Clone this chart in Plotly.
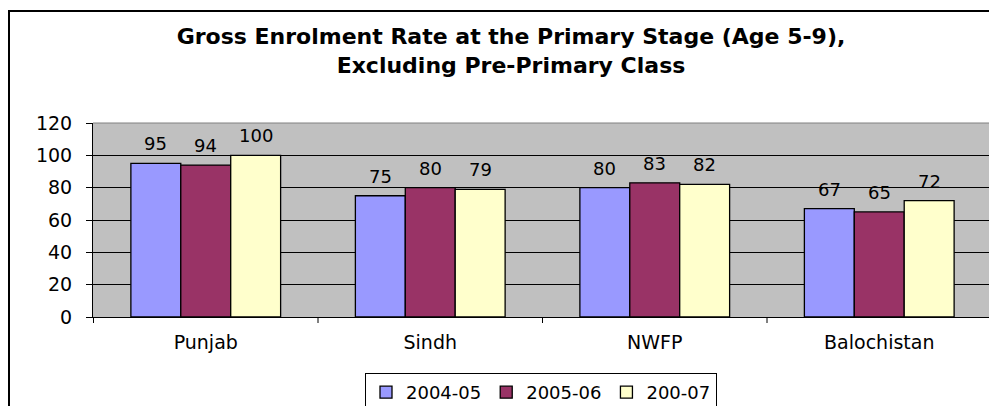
import plotly.graph_objects as go

categories = ["Punjab", "Sindh", "NWFP", "Balochistan"]
series_names = ["2004-05", "2005-06", "200-07"]
values_2004_05 = [95, 75, 80, 67]
values_2005_06 = [94, 80, 83, 65]
values_200_07 = [100, 79, 82, 72]
colors = ["#9999FF", "#993366", "#FFFFCC"]
y_ticks = [0, 20, 40, 60, 80, 100, 120]

FONT = "DejaVu Sans, Verdana, sans-serif"

# The page body has an 8px default margin, so figure pixel = screen pixel - 8.
OFF = 8
W, H = 997, 406
# plot area on screen: x 93..992, y 123..317
L, R = 93 - OFF, W - (992 - OFF)
T, B = 123 - OFF, H - (317 - OFF)
pw, ph = W - L - R, H - T - B
BARGAP = 0.333
n_series = len(series_names)
bar_px = pw / len(categories) * (1 - BARGAP) / n_series


def px(x):
    """screen x -> paper x"""
    return (x - OFF - L) / pw


def py(y):
    """screen y -> paper y"""
    return (H - B - (y - OFF)) / ph


all_values = [values_2004_05, values_2005_06, values_200_07]

fig = go.Figure()
annotations = []
for s, (name, vals, col) in enumerate(zip(series_names, all_values, colors)):
    fig.add_trace(go.Bar(
        x=categories, y=vals, name=name,
        marker=dict(color=col, line=dict(color="black", width=1.3)),
    ))
    for cat, v in zip(categories, vals):
        annotations.append(dict(
            x=cat, y=v, xref="x", yref="y", text=str(v), showarrow=False,
            xanchor="center", yanchor="bottom",
            xshift=(s - (n_series - 1) / 2) * bar_px, yshift=7,
            font=dict(family=FONT, size=18, color="black"),
        ))

fig.update_layout(
    width=W, height=H,
    margin=dict(l=L, r=R, t=T, b=B, autoexpand=False),
    paper_bgcolor="white",
    plot_bgcolor="#C0C0C0",
    barmode="group",
    bargap=BARGAP,
    bargroupgap=0,
    showlegend=True,
    font=dict(family=FONT, color="black"),
    title=dict(
        text="Gross Enrolment Rate at the Primary Stage (Age 5-9),<br>Excluding Pre-Primary Class",
        x=px(511), xanchor="center", xref="paper",
        y=1 - 36 / H, yanchor="top",
        font=dict(family=FONT, size=22, color="black", weight="bold"),
    ),
    xaxis=dict(
        showgrid=False, showline=True, linecolor="black", linewidth=1,
        ticks="", ticklabelstandoff=8,
        tickfont=dict(family=FONT, size=19, color="black"),
        automargin=False,
    ),
    yaxis=dict(
        range=[0, 120], tickvals=y_ticks, ticktext=[str(t) for t in y_ticks],
        showgrid=True, gridcolor="black", gridwidth=1,
        showline=True, linecolor="black", linewidth=1,
        ticks="outside", ticklen=6, tickcolor="black",
        ticklabelstandoff=10,
        tickfont=dict(family=FONT, size=19, color="black"),
        zeroline=False, automargin=False,
    ),
    legend=dict(
        orientation="h", x=px(541), xanchor="center",
        y=py(373), yanchor="top",
        bordercolor="black", borderwidth=1, bgcolor="white",
        font=dict(family=FONT, size=18, color="black"),
        itemwidth=30, tracegroupgap=0,
    ),
    annotations=annotations,
    shapes=[
        # outer chart frame (top + left visible)
        dict(type="rect", xref="paper", yref="paper",
             x0=px(9), x1=px(1010), y0=py(430), y1=py(11),
             line=dict(color="black", width=2), fillcolor="rgba(0,0,0,0)", layer="below"),
        # plot area border top/right gray
        dict(type="line", xref="paper", yref="paper", x0=0, x1=1, y0=1, y1=1,
             line=dict(color="#808080", width=1)),
        dict(type="line", xref="paper", yref="paper", x0=1, x1=1, y0=0, y1=1,
             line=dict(color="#808080", width=1)),
    ],
)

# category boundary tick marks on x axis
for i in range(len(categories) + 1):
    fig.add_shape(type="line", xref="x", yref="paper",
                  x0=i - 0.5, x1=i - 0.5, y0=0, y1=-6 / ph,
                  line=dict(color="black", width=1))

fig.write_html("out.html")
